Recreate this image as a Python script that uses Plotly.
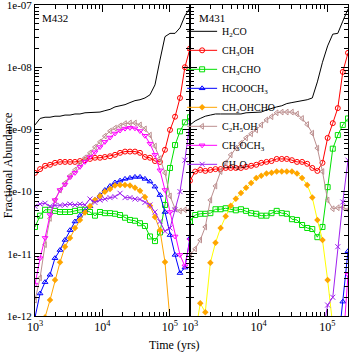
import plotly.graph_objects as go

# ---------------- data ----------------
times = [1000, 1190, 1410, 1670, 1980, 2350, 2790, 3310, 3920, 4650, 5520, 6550,
         7770, 9220, 10900, 13000, 15400, 18300, 21700, 25700, 30500, 36200,
         42900, 50900, 60400, 71600, 85000, 101000, 120000, 142000, 168000, 200000]

species = ["H<sub>2</sub>CO", "CH<sub>3</sub>OH", "CH<sub>3</sub>CHO", "HCOOCH<sub>3</sub>",
           "CH<sub>2</sub>OHCHO", "C<sub>2</sub>H<sub>5</sub>OH", "CH<sub>3</sub>OCH<sub>3</sub>",
           "CH<sub>2</sub>O"]

panel_labels = ["M432", "M431"]
x_tick_vals = [1e3, 1e4, 1e5]
x_tick_text = ["10<sup>3</sup>", "10<sup>4</sup>", "10<sup>5</sup>"]
y_tick_vals = [1e-12, 1e-11, 1e-10, 1e-9, 1e-8, 1e-7]
y_tick_text = ["1e-12", "1e-11", "1e-10", "1e-09", "1e-08", "1e-07"]

# M432 (left panel)
h2co_m432 = [1.18e-9, 1.5e-9, 1.57e-9, 1.57e-9, 1.63e-9, 1.63e-9, 1.7e-9, 1.7e-9, 1.77e-9, 1.77e-9,
             1.85e-9, 1.85e-9, 1.9e-9, 1.9e-9, 2.0e-9, 2.1e-9, 2.3e-9, 2.4e-9, 2.5e-9, 2.7e-9,
             2.9e-9, 3.0e-9, 3.2e-9, 3.6e-9, 5.2e-9, 1.3e-8, 3.1e-8, 3.5e-8, 3.5e-8, 4.3e-8, 6.7e-8, 9.0e-8]
ch3oh_m432 = [2.0e-10, 2.3e-10, 2.6e-10, 2.7e-10, 2.9e-10, 3.0e-10, 3.0e-10, 3.0e-10, 3.0e-10, 3.1e-10,
              3.2e-10, 3.35e-10, 3.5e-10, 3.5e-10, 3.6e-10, 3.7e-10, 3.9e-10, 4.2e-10, 4.4e-10, 4.4e-10,
              4.4e-10, 4.2e-10, 3.6e-10, 3.5e-10, 3.1e-10, 3.0e-10, 4.7e-10, 9.8e-10, 1.6e-9, 3.2e-9, 1.0e-8, 2.0e-8]
ch3cho_m432 = [2.7e-11, 4.1e-11, 5.1e-11, 5.1e-11, 4.9e-11, 4.7e-11, 4.7e-11, 4.7e-11, 4.9e-11, 5.1e-11,
               5.1e-11, 4.7e-11, 4.1e-11, 4.7e-11, 4.5e-11, 4.5e-11, 4.4e-11, 4.2e-11, 3.8e-11, 3.5e-11,
               3.4e-11, 3.1e-11, 2.8e-11, 1.9e-11, 1.6e-11, 2.2e-11, 6.1e-11, 2.4e-10, 5.6e-10, 9.3e-10, 1.3e-9, 1.57e-9]
hcooch3_m432 = [9.5e-13, 2.3e-12, 3.5e-12, 4.6e-12, 8.5e-12, 1.15e-11, 1.67e-11, 2.4e-11, 3.3e-11, 4.1e-11,
                4.9e-11, 5.8e-11, 7.3e-11, 8.8e-11, 1.06e-10, 1.23e-10, 1.4e-10, 1.5e-10, 1.6e-10, 1.66e-10,
                1.72e-10, 1.72e-10, 1.6e-10, 1.45e-10, 1.2e-10, 8.8e-11, 4.7e-11, 2.0e-11, 9.6e-12, 4.9e-12, 6.0e-12, 1.8e-11]
ch2ohcho_m432 = [None, 3e-13, 9.5e-13, 1.8e-12, 3.8e-12, 7.3e-12, 1.3e-11, 1.8e-11, 2.6e-11, 3.5e-11,
                 4.6e-11, 5.8e-11, 7.3e-11, 8.5e-11, 9.9e-11, 1.1e-10, 1.25e-10, 1.28e-10, 1.28e-10, 1.25e-10,
                 1.15e-10, 1.03e-10, 8.2e-11, 5.9e-11, 3.9e-11, 2.4e-11, 7.4e-12, 8.6e-13, None, None, None, None]
c2h5oh_m432 = [1.8e-12, 4.1e-12, 1.4e-11, 3.7e-11, 7.3e-11, 1.06e-10, 1.37e-10, 1.8e-10, 2.23e-10, 2.8e-10,
               3.5e-10, 4.2e-10, 5.2e-10, 6.3e-10, 7.8e-10, 9.4e-10, 1.05e-9, 1.14e-9, 1.24e-9, 1.27e-9,
               1.27e-9, 1.18e-9, 1.02e-9, 8.1e-10, 5.4e-10, 3.4e-10, 2.0e-10, 8.5e-11, 5.3e-11, 4.9e-11, 5.1e-11, 5.1e-11]
ch3och3_m432 = [3.2e-12, 8.5e-12, 1.8e-11, 4.2e-11, 7.3e-11, 1.06e-10, 1.3e-10, 1.7e-10, 2.0e-10, 2.5e-10,
                3.0e-10, 3.6e-10, 4.3e-10, 5.2e-10, 6.3e-10, 7.4e-10, 8.6e-10, 9.6e-10, 1.03e-9, 1.06e-9,
                1.04e-9, 9.4e-10, 7.9e-10, 5.9e-10, 3.9e-10, 2.2e-10, 1.06e-10, 4.7e-11, 1.9e-11, 9.6e-12, 6.3e-12, 1.67e-11]
ch2o_m432 = [5.8e-11, 6.3e-11, 6.5e-11, 5.8e-11, 6.0e-11, 6.0e-11, 6.1e-11, 6.3e-11, 6.1e-11, 6.3e-11,
             6.1e-11, 7.6e-11, 6.7e-11, 7.3e-11, 7.6e-11, 8.0e-11, 8.3e-11, 9.4e-11, 8.0e-11, 8.0e-11,
             7.6e-11, 7.5e-11, 6.7e-11, 6.1e-11, 4.7e-11, 3.3e-11, 2.3e-11, 2.6e-11, 5.1e-11, 1.0e-10, 3.2e-10, 1.3e-9]

# M431 (right panel)
h2co_m431 = [1.18e-9, 1.37e-9, 1.5e-9, 1.63e-9, 1.7e-9, 1.77e-9, 1.77e-9, 1.77e-9, 1.77e-9, 1.77e-9,
             1.77e-9, 1.85e-9, 1.85e-9, 1.9e-9, 1.9e-9, 2.05e-9, 2.2e-9, 2.3e-9, 2.4e-9, 2.6e-9,
             2.7e-9, 2.8e-9, 2.9e-9, 3.0e-9, 3.2e-9, 5.8e-9, 1.2e-8, 2.2e-8, 3.4e-8, 3.5e-8, 5.5e-8, 8.6e-8]
ch3oh_m431 = [1.5e-10, 2.1e-10, 2.23e-10, 2.15e-10, 2.23e-10, 2.3e-10, 2.3e-10, 2.4e-10, 2.4e-10, 2.4e-10,
              2.4e-10, 2.5e-10, 2.6e-10, 2.7e-10, 2.9e-10, 3.0e-10, 3.1e-10, 3.35e-10, 3.35e-10, 3.35e-10,
              3.2e-10, 3.0e-10, 3.0e-10, 2.8e-10, 2.4e-10, 2.15e-10, 2.9e-10, 7.3e-10, 1.26e-9, 2.2e-9, 8.4e-9, 1.7e-8]
ch3cho_m431 = [3.3e-11, 4.2e-11, 4.4e-11, 4.4e-11, 4.5e-11, 5.2e-11, 5.2e-11, 5.4e-11, 5.2e-11, 5.0e-11,
               5.2e-11, 4.9e-11, 4.5e-11, 4.4e-11, 4.1e-11, 4.1e-11, 4.5e-11, 4.9e-11, 4.5e-11, 4.4e-11,
               3.6e-11, 3.5e-11, 2.9e-11, 2.6e-11, 2.5e-11, 1.85e-11, 2.7e-11, 1.18e-10, 4.9e-10, 8.1e-10, 1.18e-9, 1.5e-9]
hcooch3_m431 = [None] * 29 + [3e-13, 1.7e-12, 1.1e-11]
ch2ohcho_m431 = [None, 5e-13, 1.6e-12, 1.15e-12, 7.2e-12, 1.5e-11, 2.6e-11, 4.0e-11, 5.9e-11, 7.7e-11,
                 9.5e-11, 1.15e-10, 1.37e-10, 1.66e-10, 1.8e-10, 1.95e-10, 2.0e-10, 2.1e-10, 2.1e-10, 2.1e-10,
                 2.1e-10, 1.95e-10, 1.66e-10, 1.28e-10, 8.0e-11, 3.5e-11, 1.67e-11, 3.8e-12, 7e-13, None, None, None]
c2h5oh_m431 = [9.6e-12, 1.2e-11, 1.67e-11, 2.7e-11, 7.3e-11, 1.23e-10, 2.1e-10, 2.9e-10, 3.9e-10, 5.0e-10,
               6.0e-10, 7.3e-10, 8.5e-10, 9.8e-10, 1.18e-9, 1.42e-9, 1.6e-9, 1.85e-9, 1.9e-9, 1.9e-9,
               1.9e-9, 1.77e-9, 1.5e-9, 1.2e-9, 8.7e-10, 5.0e-10, 2.1e-10, 7.3e-11, 5.3e-11, 5.5e-11, 5.6e-11, 5.1e-11]
ch3och3_m431 = [None] * 30 + [3e-13, 4.6e-12]
ch2o_m431 = [None] * 26 + [5e-13, 1.5e-12, 2.0e-12, 1.3e-11, 6.8e-11, 3.2e-10]

m432 = [h2co_m432, ch3oh_m432, ch3cho_m432, hcooch3_m432, ch2ohcho_m432, c2h5oh_m432, ch3och3_m432, ch2o_m432]
m431 = [h2co_m431, ch3oh_m431, ch3cho_m431, hcooch3_m431, ch2ohcho_m431, c2h5oh_m431, ch3och3_m431, ch2o_m431]

# ---------------- styles ----------------
line_colors = ["#000000", "#ff0000", "#00e000", "#0000ff", "#ffa500", "#bc8f8f", "#ff00ff", "#a020f0"]
right_line_colors = ["#000000", "#ff0000", "#00e000", "#0000ff", "#ffff00", "#bc8f8f", "#ff00ff", "#a020f0"]
symbols = [None, "circle-open", "square-open", "triangle-up-open", "diamond", "triangle-left-open",
           "triangle-down-open", "x-thin"]

SERIF = "Liberation Serif"
fig = go.Figure()

for panel, (series_list, colors, xa, ya) in enumerate(
        [(m432, line_colors, "x", "y"), (m431, right_line_colors, "x2", "y2")]):
    for i, vals in enumerate(series_list):
        sym = symbols[i]
        if sym is None:
            mode = "lines"
            marker = None
        else:
            mode = "lines+markers"
            if sym == "diamond":
                marker = dict(symbol=sym, size=5, color="#ffa500", line=dict(width=0))
            else:
                marker = dict(symbol=sym, size=5, color=line_colors[i], line=dict(width=1, color=line_colors[i]))
        fig.add_trace(go.Scatter(
            x=times, y=vals, mode=mode, name=species[i],
            line=dict(color=colors[i], width=1),
            marker=marker, xaxis=xa, yaxis=ya,
            showlegend=(panel == 0), legendrank=i + 1,
        ))

minor_x = [m * 10 ** e for e in range(3, 6) for m in range(2, 10) if m * 10 ** e <= 2e5]
minor_y = [m * 10.0 ** e for e in range(-12, -7) for m in range(2, 10)]

split = 155 / 313
common_x = dict(type="log", range=[3, 5.30103], showline=True, linecolor="black", linewidth=1,
                mirror="ticks", ticks="inside", ticklen=7, tickcolor="black", tickwidth=1,
                tickmode="array", tickvals=x_tick_vals, ticktext=x_tick_text, automargin=False,
                ticklabeloverflow="allow",
                tickfont=dict(family=SERIF, size=12, color="black"), showgrid=False, zeroline=False,
                minor=dict(tickmode="array", tickvals=minor_x, ticks="inside", ticklen=4,
                           tickcolor="black", showgrid=False))
common_y = dict(type="log", range=[-12.0002, -6.9998], showline=True, linecolor="black", linewidth=1,
                mirror="ticks", ticks="inside", ticklen=7, tickcolor="black", tickwidth=1,
                tickmode="array", tickvals=y_tick_vals, ticktext=y_tick_text, automargin=False,
                ticklabeloverflow="allow", showgrid=False, zeroline=False,
                minor=dict(tickmode="array", tickvals=minor_y, ticks="inside", ticklen=4,
                           tickcolor="black", showgrid=False))

fig.update_layout(
    width=350, height=353,
    margin=dict(l=35, r=2, t=5, b=37, autoexpand=False),
    paper_bgcolor="white", plot_bgcolor="white",
    font=dict(family=SERIF, size=11, color="black"),
    xaxis=dict(domain=[0, split], anchor="y", **common_x),
    xaxis2=dict(domain=[split, 1], anchor="y2", **common_x),
    yaxis=dict(domain=[0, 1], anchor="x", tickfont=dict(family=SERIF, size=11, color="black"), **common_y),
    yaxis2=dict(domain=[0, 1], anchor="x2", showticklabels=False, **common_y),
    legend=dict(x=0.47, y=0.962, xanchor="left", yanchor="top", bgcolor="rgba(0,0,0,0)",
                font=dict(family=SERIF, size=10, color="black"), tracegroupgap=0,
                itemwidth=30, borderwidth=0),
    annotations=[
        dict(text=panel_labels[0], x=0.016, y=0.958, xref="paper", yref="paper",
             xanchor="left", yanchor="middle", showarrow=False, font=dict(family=SERIF, size=11)),
        dict(text=panel_labels[1], x=split + 0.022, y=0.958, xref="paper", yref="paper",
             xanchor="left", yanchor="middle", showarrow=False, font=dict(family=SERIF, size=11)),
        dict(text="Time (yrs)", x=0.447, y=-0.092, xref="paper", yref="paper",
             xanchor="center", yanchor="middle", showarrow=False, font=dict(family=SERIF, size=12)),
        dict(text="Fractional Abundance", x=-0.086, y=0.485, xref="paper", yref="paper",
             xanchor="center", yanchor="middle", textangle=-90, showarrow=False,
             font=dict(family=SERIF, size=12)),
    ],
)

fig.write_html("out.html", config={"displayModeBar": False},
               post_script="document.body.style.margin='0';document.body.style.overflow='hidden';")
